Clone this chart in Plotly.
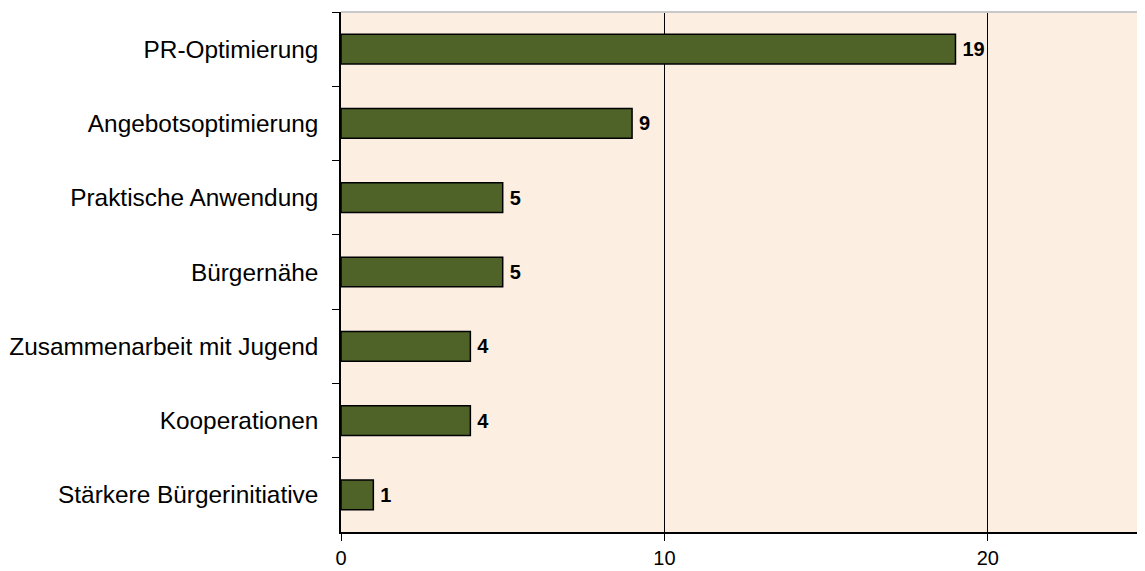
import plotly.graph_objects as go

categories = ['PR-Optimierung', 'Angebotsoptimierung', 'Praktische Anwendung', 'Bürgernähe',
              'Zusammenarbeit mit Jugend', 'Kooperationen', 'Stärkere Bürgerinitiative']
counts = [19, 9, 5, 5, 4, 4, 1]
x_ticks = [0, 10, 20]

# page body has an 8px margin, so the figure is a bit smaller than the window
fig = go.Figure(go.Bar(
  x=counts,
  y=categories,
  orientation='h',
  marker=dict(color='#4F6228', line=dict(color='black', width=1.5)),
  text=['\u2009' + str(c) for c in counts],
  textposition='outside',
  textfont=dict(family='Liberation Sans, Arial', size=20, color='black', weight='bold'),
  cliponaxis=False,
))

fig.update_layout(
  width=1137, height=563,
  margin=dict(l=333, r=0, t=4, b=39),
  paper_bgcolor='white',
  plot_bgcolor='#FDEEE2',
  bargap=0.6,
  showlegend=False,
  font=dict(family='Liberation Sans, Arial', size=24, color='black'),
  xaxis=dict(
    range=[0, 24.86], tickvals=x_ticks, ticks='outside', ticklen=7, tickcolor='black',
    showgrid=True, gridcolor='black', gridwidth=1, zeroline=False,
    showline=True, linecolor='black', linewidth=1.5, ticklabelstandoff=0,
    tickfont=dict(size=20), automargin=False,
  ),
  yaxis=dict(
    autorange='reversed', ticks='outside', tickson='boundaries', ticklen=7, tickcolor='black',
    showline=True, linecolor='black', linewidth=1.5, ticklabelstandoff=16,
    tickfont=dict(size=24.4), automargin=False,
  ),
  shapes=[dict(type='line', xref='paper', yref='paper', x0=0, x1=1, y0=1, y1=1,
               line=dict(color='#C8C8C8', width=2))],
)

fig.write_html("out.html")
